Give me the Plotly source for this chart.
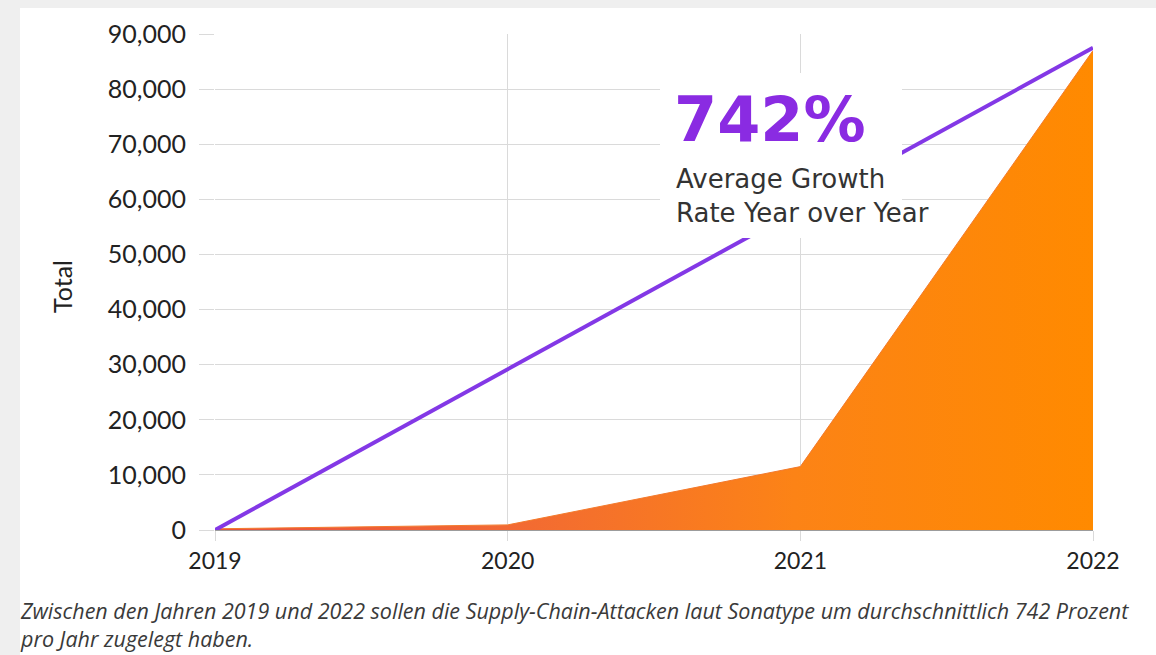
import plotly.graph_objects as go

years = [2019, 2020, 2021, 2022]
attacks = [216, 929, 11500, 87000]
trend = [0, 29200, 58300, 87500]
y_ticks = [0, 10000, 20000, 30000, 40000, 50000, 60000, 70000, 80000, 90000]
y_tick_labels = ["0", "10,000", "20,000", "30,000", "40,000", "50,000",
                 "60,000", "70,000", "80,000", "90,000"]
x_tick_labels = ["2019", "2020", "2021", "2022"]
headline = "742%"
subline = "Average Growth<br>Rate Year over Year"
caption = ("Zwischen den Jahren 2019 und 2022 sollen die Supply-Chain-Attacken laut Sonatype "
           "um durchschnittlich 742 Prozent<br>pro Jahr zugelegt haben.")

W, H = 1156, 655
L, R, T, B = 215, 63, 34, 125
PW, PH = W - L - R, H - T - B


def px(xp):
    return (xp - L) / PW


def py(yp):
    return (H - B - yp) / PH


FONT = "Lato"
WIDE = "DejaVu Sans"
PURPLE = "#8338e6"
GRID = "#dadada"

fig = go.Figure()
fig.add_trace(go.Scatter(
    x=years, y=attacks, mode="lines", fill="tozeroy",
    line=dict(color="#f37a2c", width=1),
    fillgradient=dict(type="horizontal",
                      colorscale=[[0, "#e9503e"], [0.33, "#f26934"],
                                  [0.66, "#fc8316"], [1, "#ff8a00"]]),
    hoverinfo="skip", showlegend=False, cliponaxis=False))
fig.add_trace(go.Scatter(
    x=years, y=trend, mode="lines",
    line=dict(color=PURPLE, width=4),
    hoverinfo="skip", showlegend=False, cliponaxis=False))

shapes = [
    dict(type="rect", xref="paper", yref="paper", layer="below",
         x0=px(20), x1=px(W + 5), y0=py(H + 5), y1=py(8),
         fillcolor="white", line=dict(width=0)),
    dict(type="rect", xref="paper", yref="paper", layer="between",
         x0=px(655), x1=px(965), y0=py(242), y1=py(73),
         fillcolor="white", line=dict(width=0)),
    dict(type="rect", xref="paper", yref="paper", layer="above",
         x0=px(660), x1=px(902), y0=py(238), y1=py(73),
         fillcolor="white", line=dict(width=0)),
]

annotations = [
    dict(text="<b>" + headline + "</b>", xref="paper", yref="paper",
         x=px(672), y=py(120), xanchor="left", yanchor="middle", showarrow=False,
         font=dict(family=WIDE, size=62, color="#8a2be2")),
    dict(text=subline, xref="paper", yref="paper", align="left",
         x=px(674), y=py(196), xanchor="left", yanchor="middle", showarrow=False,
         font=dict(family=WIDE, size=26, color="#333333")),
    dict(text="Total", xref="paper", yref="paper", textangle=-90,
         x=px(62), y=py(287), xanchor="center", yanchor="middle", showarrow=False,
         font=dict(family=FONT, size=25, color="#222222")),
    dict(text="<i>" + caption + "</i>", xref="paper", yref="paper", align="left",
         x=px(18), y=py(594), xanchor="left", yanchor="top", showarrow=False,
         font=dict(family="Open Sans", size=21.5, color="#3a3a3a")),
]

fig.update_layout(
    width=W, height=H,
    margin=dict(l=L, r=R, t=T, b=B, pad=0),
    paper_bgcolor="#efefef", plot_bgcolor="white",
    shapes=shapes, annotations=annotations,
    xaxis=dict(range=[2019, 2022], tickvals=years, ticktext=x_tick_labels,
               showgrid=True, gridcolor=GRID, gridwidth=1,
               ticks="outside", ticklen=10, tickcolor=GRID,
               zeroline=False, showline=False,
               tickfont=dict(family=FONT, size=23, color="#222222")),
    yaxis=dict(range=[0, 90000], tickvals=y_ticks, ticktext=y_tick_labels,
               showgrid=True, gridcolor=GRID, gridwidth=1,
               ticks="outside", ticklen=15, tickcolor=GRID,
               ticklabelstandoff=8,
               zeroline=True, zerolinecolor="#9c9c9c", zerolinewidth=1,
               showline=False,
               tickfont=dict(family=FONT, size=25, color="#222222")),
)

fig.write_html("out.html")
